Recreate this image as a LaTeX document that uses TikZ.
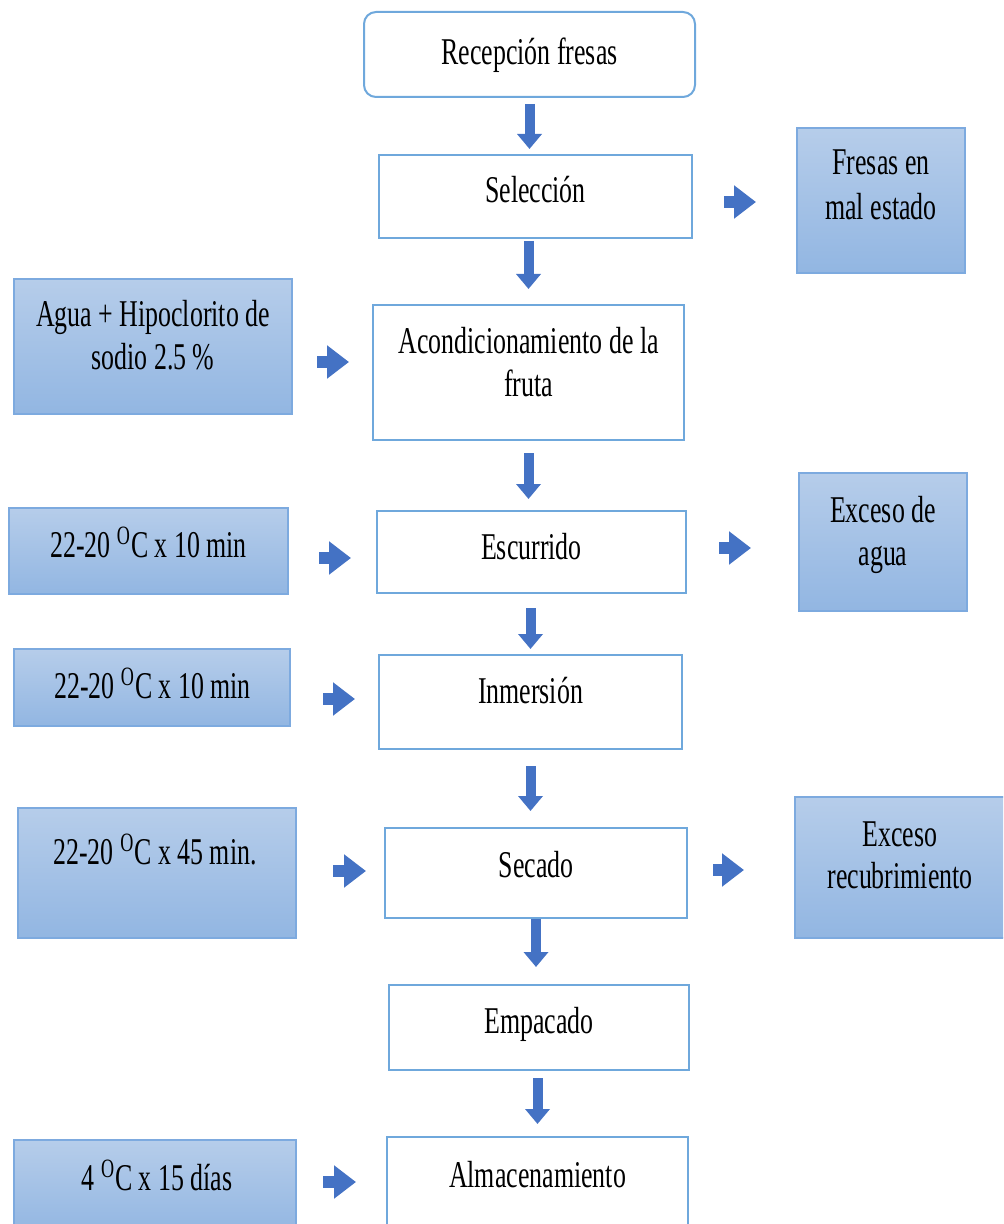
\documentclass[tikz,border=0pt]{standalone}
\usepackage{fontspec}
\setmainfont[FakeStretch=0.685]{Liberation Serif}
\usetikzlibrary{arrows.meta}
\definecolor{arrowblue}{HTML}{4472C4}
\definecolor{wborder}{HTML}{6FA8DC}
\definecolor{bborder}{HTML}{7DAADF}
\definecolor{btop}{HTML}{B6CDEA}
\definecolor{bbot}{HTML}{92B6E2}
\begin{document}
\begin{tikzpicture}[x=0.5pt,y=-0.5pt,
  wbox/.style={draw=wborder, line width=1pt, fill=white, inner sep=0pt},
  bbox/.style={draw=bborder, line width=1pt, top color=btop, bottom color=bbot, inner sep=0pt},
  txt/.style={font=\fontsize{18.9}{21.5}\selectfont, align=center, anchor=base, inner sep=0pt},
  varrow/.style={draw=arrowblue, line width=5pt, -{Triangle[length=7.5pt,width=12pt]}},
  harrow/.style={draw=arrowblue, line width=6pt, -{Triangle[length=11pt,width=16pt]}},
]
\useasboundingbox (0,0) rectangle (1003,1224);
\clip (0,0) rectangle (1003,1224);

% boxes
\node[wbox, rounded corners=6pt, minimum width=165.5pt, minimum height=42.5pt] (rec) at (529.5,54.5) {};
\node[wbox, minimum width=156.5pt, minimum height=41.5pt] (sel) at (535.5,196.5) {};
\node[bbox, minimum width=84pt, minimum height=72.5pt] (fre) at (881,200.5) {};
\node[bbox, minimum width=139pt, minimum height=67.5pt] (agua) at (153,346.5) {};
\node[wbox, minimum width=155.5pt, minimum height=67.5pt] (acon) at (528.5,372.5) {};
\node[bbox, minimum width=139.5pt, minimum height=43pt] (tA) at (148.5,551) {};
\node[wbox, minimum width=154.5pt, minimum height=41pt] (esc) at (531.5,552) {};
\node[bbox, minimum width=84pt, minimum height=69pt] (exa) at (883,542) {};
\node[bbox, minimum width=138pt, minimum height=38.5pt] (tB) at (152,687.5) {};
\node[wbox, minimum width=151.5pt, minimum height=47pt] (inm) at (530.5,702) {};
\node[bbox, minimum width=139pt, minimum height=65pt] (tC) at (157,873) {};
\node[wbox, minimum width=151pt, minimum height=45pt] (sec) at (536,873) {};
\node[bbox, minimum width=107.5pt, minimum height=70.5pt] (exr) at (902.5,867) {};
\node[wbox, minimum width=150pt, minimum height=42.5pt] (emp) at (539,1027.5) {};
\node[wbox, minimum width=150.5pt, minimum height=48.5pt] (alm) at (537.5,1185.5) {};
\node[bbox, minimum width=141pt, minimum height=47pt] (tD) at (155,1187) {};

% texts (anchor=base is the baseline of the last line)
\node[txt] (recT) at (529.5,65) {Recepción fresas};
\node[txt] (selT) at (535.5,203) {Selección};
\node[txt, font=\fontsize{18.9}{22.5}\selectfont] (freT) at (881,220) {Fresas en\\mal estado};
\node[txt] (aguaT) at (153,370) {Agua + Hipoclorito de\\sodio 2.5 \%};
\node[txt] (aconT) at (528.5,397) {Acondicionamiento de la\\fruta};
\node[txt] (tAT) at (148.5,557) {22-20 \textsuperscript{O}C x 10 min};
\node[txt] (escT) at (531.5,559) {Escurrido};
\node[txt] (exaT) at (883,565) {Exceso de\\agua};
\node[txt] (tBT) at (152.5,698) {22-20 \textsuperscript{O}C x 10 min};
\node[txt] (inmT) at (530.5,703) {Inmersión};
\node[txt] (tCT) at (155,864) {22-20 \textsuperscript{O}C x 45 min.};
\node[txt] (secT) at (536,877) {Secado};
\node[txt, font=\fontsize{18.9}{21}\selectfont] (exrT) at (900,888) {Exceso\\recubrimiento};
\node[txt] (empT) at (539,1033) {Empacado};
\node[txt] (almT) at (537.5,1187) {Almacenamiento};
\node[txt] (tDT) at (157,1190) {4 \textsuperscript{O}C x 15 días};

% vertical arrows
\draw[varrow, shorten <=3pt, shorten >=2.5pt] (rec.south) -- (rec.south |- sel.north);
\draw[varrow, shorten <=1pt, shorten >=7.5pt] (acon.north |- sel.south) -- (acon.north);
\draw[varrow, shorten <=6pt, shorten >=5.5pt] (acon.south) -- (acon.south |- esc.north);
\draw[varrow, shorten <=7pt, shorten >=2.5pt] (inm.north |- esc.south) -- (inm.north);
\draw[varrow, shorten <=8pt, shorten >=8pt] (inm.south) -- (inm.south |- sec.north);
\draw[varrow, shorten <=0pt, shorten >=8.5pt] (sec.south) -- (sec.south |- emp.north);
\draw[varrow, shorten <=3.5pt, shorten >=6pt] (alm.north |- emp.south) -- (alm.north);

% horizontal arrows
\draw[harrow, shorten <=15.5pt, shorten >=20pt] ([yshift=-2.75pt]sel.east) -- ([yshift=-2.75pt]sel.east -| fre.west);
\draw[harrow, shorten <=12pt, shorten >=11.5pt] ([yshift=-7.75pt]agua.east) -- ([yshift=-7.75pt]agua.east -| acon.west);
\draw[harrow, shorten <=15pt, shorten >=12.5pt] ([yshift=-3.5pt]tA.east) -- ([yshift=-3.5pt]tA.east -| esc.west);
\draw[harrow, shorten <=16pt, shorten >=23.5pt] ([yshift=2pt]esc.east) -- ([yshift=2pt]esc.east -| exa.west);
\draw[harrow, shorten <=16pt, shorten >=11.5pt] ([yshift=-5.75pt]tB.east) -- ([yshift=-5.75pt]tB.east -| inm.west);
\draw[harrow, shorten <=18pt, shorten >=9pt] ([yshift=1pt]tC.east) -- ([yshift=1pt]tC.east -| sec.west);
\draw[harrow, shorten <=12.5pt, shorten >=25pt] ([yshift=1.5pt]sec.east) -- ([yshift=1.5pt]sec.east -| exr.west);
\draw[harrow, shorten <=13pt, shorten >=15pt] ([yshift=2.5pt]tD.east) -- ([yshift=2.5pt]tD.east -| alm.west);
\end{tikzpicture}
\end{document}
